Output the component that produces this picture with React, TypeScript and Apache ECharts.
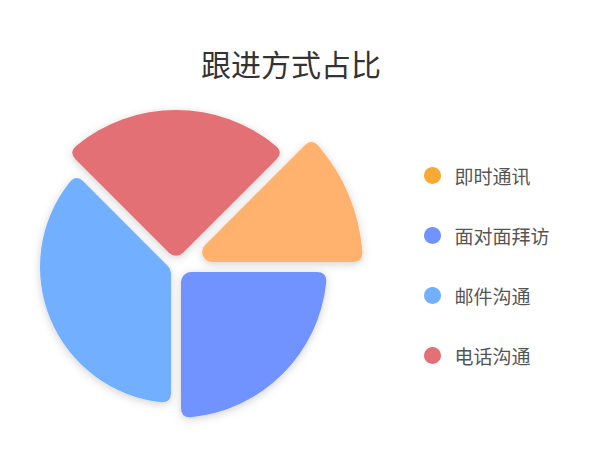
import * as echarts from 'echarts';
import { useEffect, useRef } from 'react';

// 跟进方式占比：数值决定扇区角度
const names = ['即时通讯', '面对面拜访', '邮件沟通', '电话沟通'];
const values = [10, 20, 30, 20];

// 样式：每个扇区各自的外半径、颜色
const radii = [187, 151, 136, 157];
const sliceColors = ['#FFB26E', '#7093FF', '#72AFFF', '#E27074'];
const legendColors = ['#F9A935', '#7093FF', '#72AFFF', '#E27074'];

const CX = 176;
const CY = 267;
const START = 45; // 起始角度（度），顺时针
const GAP = 5; // 半个缝隙宽度
const CORNER = 10; // 外侧圆角
const TIP = 10; // 中心尖角圆角半径

const FONT = '"Noto Sans CJK SC", "Noto Sans", sans-serif';

const total = values.reduce((a, b) => a + b, 0);

// 带平行缝隙和圆角的扇形路径
function slicePath(R: number, s: number, e: number) {
  const P = (r: number, a: number) => [CX + r * Math.cos(a), CY - r * Math.sin(a)];
  const toward = (from: number[], to: number[], d: number) => {
    const dx = to[0] - from[0];
    const dy = to[1] - from[1];
    const len = Math.hypot(dx, dy);
    return [from[0] + (dx / len) * d, from[1] + (dy / len) * d];
  };
  const h = (s - e) / 2;
  const apex = P(GAP / Math.sin(h), (s + e) / 2);
  const d = Math.asin(GAP / R);
  const k1 = P(R, s - d);
  const k2 = P(R, e + d);
  const t = TIP / Math.tan(h);
  const a1 = toward(apex, k1, t);
  const a2 = toward(apex, k2, t);
  const b1 = toward(k1, apex, CORNER);
  const arc1 = P(R, s - d - CORNER / R);
  const arc2 = P(R, e + d + CORNER / R);
  const b2 = toward(k2, apex, CORNER);
  const large = s - e - 2 * d - (2 * CORNER) / R > Math.PI ? 1 : 0;
  const f = (p: number[]) => `${p[0].toFixed(2)} ${p[1].toFixed(2)}`;
  return (
    `M ${f(a1)} L ${f(b1)} Q ${f(k1)} ${f(arc1)} ` +
    `A ${R} ${R} 0 ${large} 1 ${f(arc2)} ` +
    `Q ${f(k2)} ${f(b2)} L ${f(a2)} A ${TIP} ${TIP} 0 0 1 ${f(a1)} Z`
  );
}

export default function App() {
  const chartRef = useRef<HTMLDivElement>(null);

  useEffect(() => {
    if (!chartRef.current) return;
    const chart = echarts.init(chartRef.current, undefined, { renderer: 'svg' });

    const series = names.map((name, i) => ({
      type: 'custom',
      name,
      coordinateSystem: 'none',
      silent: true,
      itemStyle: { color: sliceColors[i] },
      data: [{ name, value: values[i] }],
      renderItem: (_params: unknown, api: any) => {
        const v = api.value(0) as number;
        const before = values.slice(0, i).reduce((a, b) => a + b, 0);
        const s = ((START - (360 * before) / total) * Math.PI) / 180;
        const e = s - (2 * Math.PI * v) / total;
        return {
          type: 'path',
          shape: { pathData: slicePath(radii[i], s, e) },
          style: {
            fill: api.visual('color'),
            shadowBlur: 8,
            shadowOffsetX: 0,
            shadowOffsetY: 2,
            shadowColor: 'rgba(0,0,0,0.18)',
          },
        };
      },
    }));

    chart.setOption({
      animation: false,
      backgroundColor: '#fff',
      title: {
        text: '跟进方式占比',
        left: 196,
        top: 43,
        textStyle: { fontSize: 30, color: '#333', fontWeight: 'normal', fontFamily: FONT },
      },
      legend: {
        orient: 'vertical',
        left: 419,
        top: 161,
        icon: 'circle',
        itemWidth: 34,
        itemHeight: 17,
        itemGap: 41,
        textStyle: { fontSize: 19, color: '#555', fontFamily: FONT },
        data: names.map((n, i) => ({ name: n, itemStyle: { color: legendColors[i] } })),
      },
      series,
    });

    return () => chart.dispose();
  }, []);

  return (
    <div
      ref={chartRef}
      style={{ position: 'absolute', left: 0, top: 0, width: 594, height: 457 }}
    />
  );
}
